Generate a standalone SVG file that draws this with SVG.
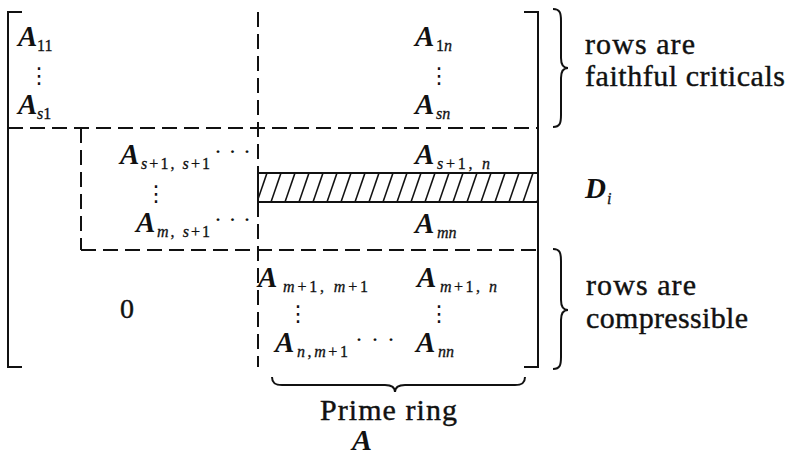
<svg xmlns="http://www.w3.org/2000/svg" width="786" height="457" viewBox="0 0 786 457">
<style>
.ln{stroke:#111;stroke-width:2;fill:none}
.dash{stroke:#111;stroke-width:2;fill:none;stroke-dasharray:15 7}
text{font-family:'Liberation Serif','Times New Roman',Times,serif;fill:#111}
.A{font-size:29px;font-weight:bold;font-style:italic}
.sub{font-size:16px;stroke:#111;stroke-width:0.3}
.i{font-style:italic}
.txt{font-size:30px;stroke:#111;stroke-width:0.4}
.dots{font-size:24px}
.vd{font-family:'DejaVu Sans',sans-serif;font-size:22px}
</style>
<defs>
<pattern id="hatch" patternUnits="userSpaceOnUse" x="258" y="173" width="14" height="29">
<line x1="-1" y1="29" x2="9" y2="0" stroke="#111" stroke-width="1.6"/>
<line x1="13" y1="29" x2="23" y2="0" stroke="#111" stroke-width="1.6"/>
</pattern>
</defs>
<g id="connectors">
<path class="ln" d="M22,12 H8 V367 H22"/>
<path class="ln" d="M524,12 H538 V367 H524"/>
<line class="dash" x1="258" y1="12" x2="258" y2="173"/>
<line class="dash" x1="258" y1="202" x2="258" y2="367"/>
<line class="dash" x1="8" y1="128" x2="538" y2="128"/>
<line class="dash" x1="81" y1="128" x2="81" y2="250"/>
<line class="dash" x1="81" y1="250" x2="538" y2="250"/>
</g>
<g id="band">
<rect x="258" y="173" width="280" height="29" fill="url(#hatch)" stroke="#111" stroke-width="2"/>
</g>
<g id="n-a11"><text class="A" x="18" y="46">A</text><text class="sub" x="37" y="51">11</text></g>
<g id="n-vd1"><text class="vd" x="39" y="83" text-anchor="middle">⋮</text></g>
<g id="n-as1"><text class="A" x="18" y="114">A</text><text class="sub" x="37" y="119"><tspan class="i">s</tspan>1</text></g>
<g id="n-a1n"><text class="A" x="415" y="46">A</text><text class="sub" x="436" y="51">1<tspan class="i">n</tspan></text></g>
<g id="n-vd2"><text class="vd" x="439" y="83" text-anchor="middle">⋮</text></g>
<g id="n-asn"><text class="A" x="415" y="114">A</text><text class="sub i" x="436" y="119">sn</text></g>
<g id="n-ass"><text class="A" x="120" y="164">A</text><text class="sub" x="141" y="169" textLength="69" lengthAdjust="spacing"><tspan class="i">s</tspan>+1, <tspan class="i">s</tspan>+1</text><text class="dots" x="214" y="159" textLength="37" lengthAdjust="spacing">· · ·</text></g>
<g id="n-vd3"><text class="vd" x="156" y="201" text-anchor="middle">⋮</text></g>
<g id="n-ams"><text class="A" x="136" y="232">A</text><text class="sub" x="157" y="237" textLength="53" lengthAdjust="spacing"><tspan class="i">m</tspan>, <tspan class="i">s</tspan>+1</text><text class="dots" x="214" y="227" textLength="37" lengthAdjust="spacing">· · ·</text></g>
<g id="n-asn1"><text class="A" x="415" y="164">A</text><text class="sub" x="437" y="169" textLength="53" lengthAdjust="spacing"><tspan class="i">s</tspan>+1, <tspan class="i">n</tspan></text></g>
<g id="n-amn"><text class="A" x="415" y="233">A</text><text class="sub i" x="437" y="238">mn</text></g>
<g id="n-d"><text class="A" x="585" y="198">D</text><text class="sub i" x="607" y="204">i</text></g>
<g id="n-zero"><text class="txt" x="120" y="318" style="font-size:28px">0</text></g>
<g id="n-amm"><text class="A" x="258" y="287">A</text><text class="sub" x="283" y="292" textLength="85" lengthAdjust="spacing"><tspan class="i">m</tspan>+1, <tspan class="i">m</tspan>+1</text></g>
<g id="n-amn1"><text class="A" x="417" y="287">A</text><text class="sub" x="440" y="292" textLength="57" lengthAdjust="spacing"><tspan class="i">m</tspan>+1, <tspan class="i">n</tspan></text></g>
<g id="n-vd4"><text class="vd" x="298" y="321" text-anchor="middle">⋮</text></g>
<g id="n-vd5"><text class="vd" x="439" y="321" text-anchor="middle">⋮</text></g>
<g id="n-anm"><text class="A" x="275" y="352">A</text><text class="sub" x="297" y="357" textLength="51" lengthAdjust="spacing"><tspan class="i">n</tspan>,<tspan class="i">m</tspan>+1</text><text class="dots" x="355" y="347" textLength="40" lengthAdjust="spacing">· · ·</text></g>
<g id="n-ann"><text class="A" x="416" y="352">A</text><text class="sub i" x="438" y="357">nn</text></g>
<g id="brace-top">
<path class="ln" d="M553,9 C560,9 561,13 561,21 L561,58 C561,65 563,68 568,68 C563,68 561,71 561,78 L561,115 C561,123 560,127 553,127"/>
<text class="txt" x="585" y="54" textLength="110" lengthAdjust="spacing">rows are</text>
<text class="txt" x="585" y="86" textLength="200" lengthAdjust="spacing">faithful criticals</text>
</g>
<g id="brace-bottom">
<path class="ln" d="M553,249 C560,249 561,253 561,261 L561,300 C561,307 563,310 568,310 C563,310 561,313 561,320 L561,357 C561,365 560,369 553,369"/>
<text class="txt" x="586" y="295" textLength="110" lengthAdjust="spacing">rows are</text>
<text class="txt" x="586" y="328" textLength="162" lengthAdjust="spacing">compressible</text>
</g>
<g id="brace-prime">
<path class="ln" d="M272,377 C272,383 275,385 282,385 L385,385 C391,385 395,387 395,392 C395,387 399,385 405,385 L515,385 C522,385 525,383 525,377"/>
<text class="txt" x="320" y="420" textLength="137" lengthAdjust="spacing">Prime ring</text>
<text class="A" x="352" y="450" style="font-size:30px">A</text>
</g>
</svg>
